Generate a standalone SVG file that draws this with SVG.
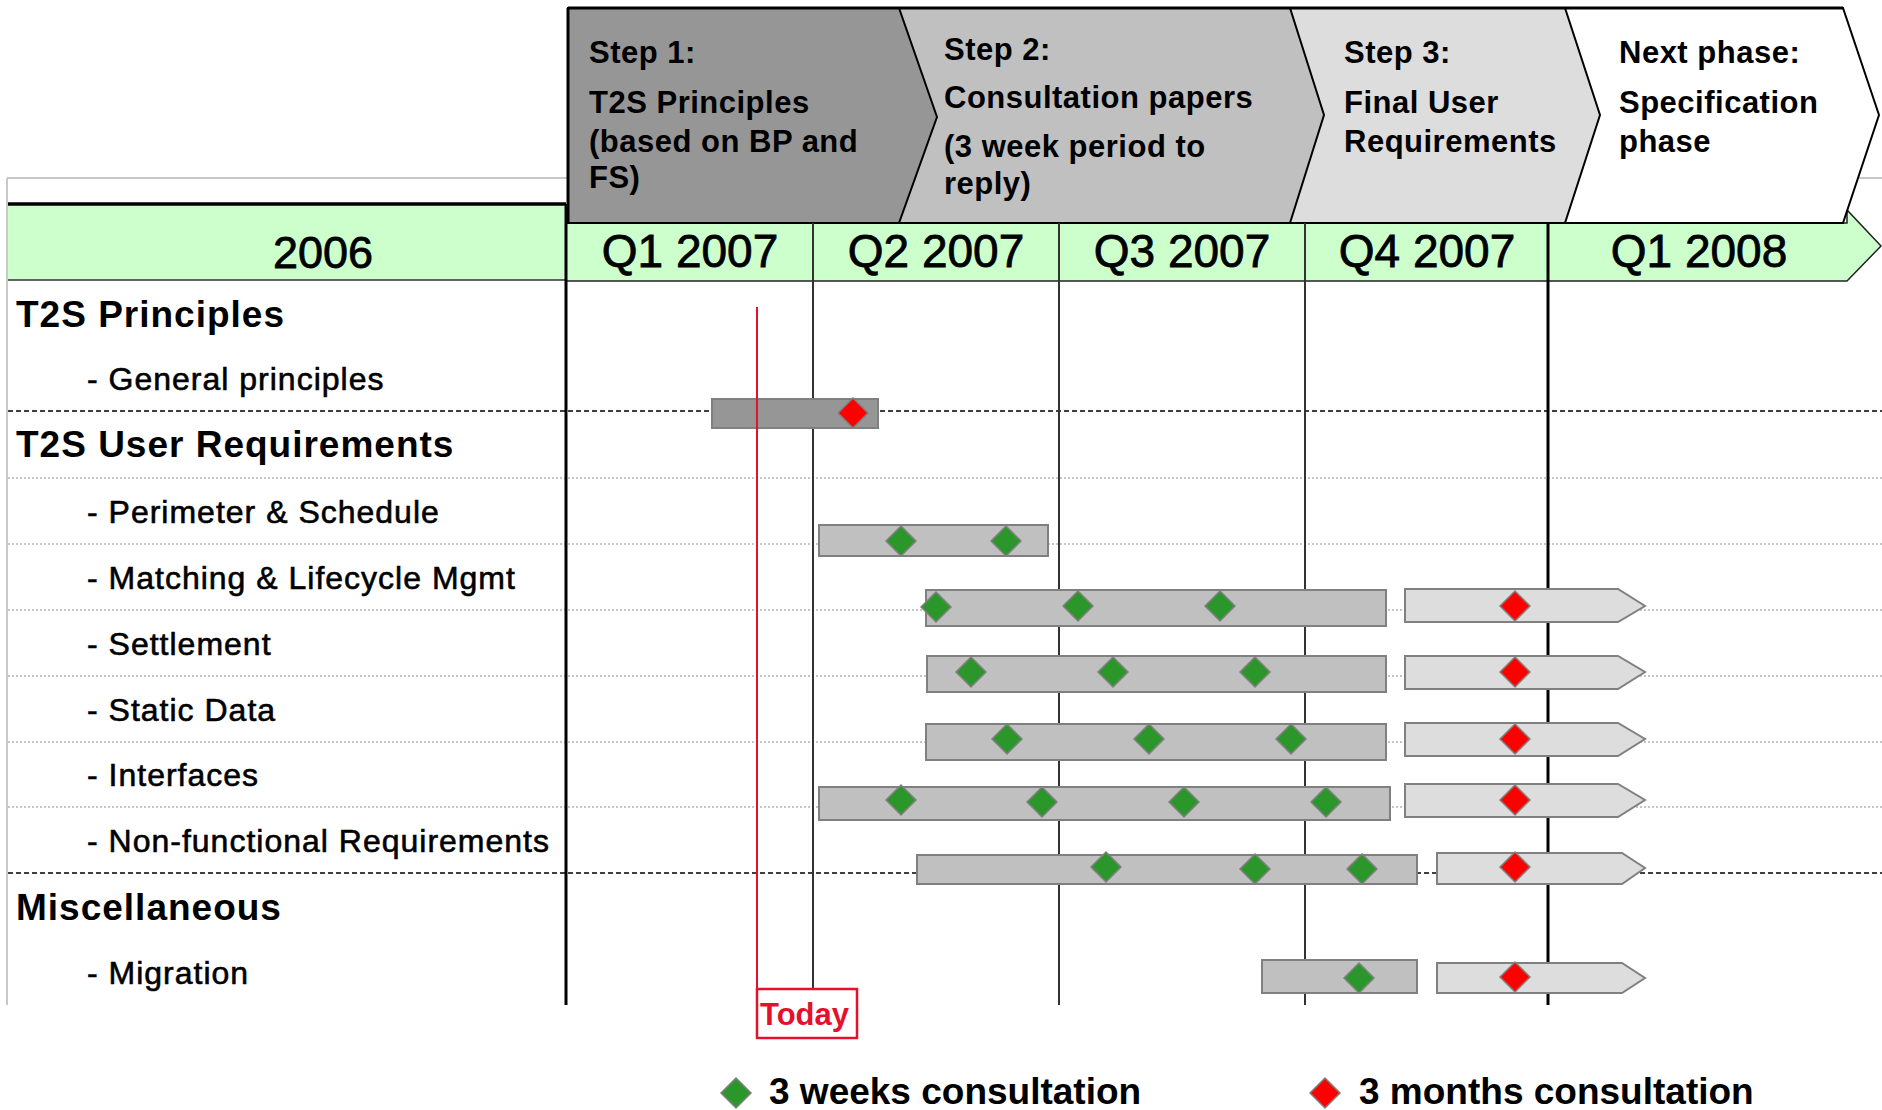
<svg xmlns="http://www.w3.org/2000/svg" xmlns:xlink="http://www.w3.org/1999/xlink" width="1882" height="1110" viewBox="0 0 1882 1110">
<style>
text{font-family:"Liberation Sans",Arial,sans-serif;fill:#000}
.hdr{font-size:31px;font-weight:bold;letter-spacing:0.5px}
.q{font-size:46px;text-anchor:middle;stroke:#000;stroke-width:0.8px}
.h1{font-size:37px;font-weight:bold;letter-spacing:1px}
.sub{font-size:32px;letter-spacing:1px;stroke:#000;stroke-width:0.6px}
.leg{font-size:37px;font-weight:bold}
.bar{fill:#c0c0c0;stroke:#808080;stroke-width:2}
.bar1{fill:#969696;stroke:#808080;stroke-width:2}
.arr{fill:#dddddd;stroke:#808080;stroke-width:2}
.g{fill:#2b972b;stroke:#808080;stroke-width:1.5}
.r{fill:#ff0000;stroke:#808080;stroke-width:1.5}
.dot{stroke:#b4b4b4;stroke-width:1.5;stroke-dasharray:2 2;fill:none}
.dash{stroke:#000;stroke-width:1.5;stroke-dasharray:5 3;fill:none}
.vq{stroke:#333;stroke-width:2}
.vb{stroke:#000;stroke-width:3}
.chev{stroke:#000;stroke-width:2;stroke-linejoin:miter}
</style>
<defs>
<path id="dia" d="M0,-15 L15,0 L0,15 L-15,0 Z"/>
</defs>
<rect x="0" y="0" width="1882" height="1110" fill="#fff"/>

<g id="frame">
<line x1="7" y1="178" x2="1882" y2="178" stroke="#c8c8c8" stroke-width="2"/>
<line x1="7" y1="178" x2="7" y2="1005" stroke="#c8c8c8" stroke-width="2"/>
</g>

<g id="timeline-band">
<rect x="8" y="204" width="558" height="76" fill="#ccffcc"/>
<polygon points="566,223 1847,223 1847,210 1881,246 1847,281 566,281" fill="#ccffcc" stroke="#222" stroke-width="1.5"/>
<line x1="8" y1="280" x2="566" y2="280" stroke="#333" stroke-width="1.5"/>
<line x1="8" y1="204" x2="566" y2="204" stroke="#000" stroke-width="3.5"/>
<text class="q" x="323" y="268" style="font-size:45px">2006</text>
<text class="q" x="690" y="267">Q1 2007</text>
<text class="q" x="936" y="267">Q2 2007</text>
<text class="q" x="1182" y="267">Q3 2007</text>
<text class="q" x="1427" y="267">Q4 2007</text>
<text class="q" x="1699" y="267">Q1 2008</text>
</g>

<g id="step-next">
<polygon class="chev" points="1290,8 1843,8 1879,115 1843,223 1290,223" fill="#ffffff"/>
<text class="hdr" x="1619" y="63">Next phase:</text>
<text class="hdr" x="1619" y="113">Specification</text>
<text class="hdr" x="1619" y="152">phase</text>
</g>
<g id="step-3">
<polygon class="chev" points="899,8 1565,8 1600,115 1565,223 899,223" fill="#dddddd"/>
<text class="hdr" x="1344" y="63">Step 3:</text>
<text class="hdr" x="1344" y="113">Final User</text>
<text class="hdr" x="1344" y="152">Requirements</text>
</g>
<g id="step-2">
<polygon class="chev" points="568,8 1290,8 1324,115 1290,223 568,223" fill="#c0c0c0"/>
<text class="hdr" x="944" y="60">Step 2:</text>
<text class="hdr" x="944" y="108">Consultation papers</text>
<text class="hdr" x="944" y="157">(3 week period to</text>
<text class="hdr" x="944" y="194">reply)</text>
</g>
<g id="step-1">
<polygon class="chev" points="568,8 899,8 937,117 899,223 568,223" fill="#969696"/>
<line x1="568" y1="8" x2="1843" y2="8" stroke="#000" stroke-width="3"/>
<line x1="568" y1="8" x2="568" y2="223" stroke="#000" stroke-width="3"/>
<text class="hdr" x="589" y="63">Step 1:</text>
<text class="hdr" x="589" y="113">T2S Principles</text>
<text class="hdr" x="589" y="152">(based on BP and</text>
<text class="hdr" x="589" y="188">FS)</text>
</g>

<g id="connectors">
<line class="dash" x1="8" y1="411" x2="1882" y2="411"/>
<line class="dot" x1="8" y1="478" x2="1882" y2="478"/>
<line class="dot" x1="8" y1="544" x2="1882" y2="544"/>
<line class="dot" x1="8" y1="610" x2="1882" y2="610"/>
<line class="dot" x1="8" y1="676" x2="1882" y2="676"/>
<line class="dot" x1="8" y1="742" x2="1882" y2="742"/>
<line class="dot" x1="8" y1="807" x2="1882" y2="807"/>
<line class="dash" x1="8" y1="873" x2="1882" y2="873"/>
<line class="vb" x1="566" y1="204" x2="566" y2="1005"/>
<line class="vq" x1="813" y1="223" x2="813" y2="1005"/>
<line class="vq" x1="1059" y1="223" x2="1059" y2="1005"/>
<line class="vq" x1="1305" y1="223" x2="1305" y2="1005"/>
<line class="vb" x1="1548" y1="223" x2="1548" y2="1005"/>
</g>

<g id="labels">
<text class="h1" x="16" y="327">T2S Principles</text>
<text class="sub" x="87" y="390">- General principles</text>
<text class="h1" x="16" y="457">T2S User Requirements</text>
<text class="sub" x="87" y="523">- Perimeter &amp; Schedule</text>
<text class="sub" x="87" y="589">- Matching &amp; Lifecycle Mgmt</text>
<text class="sub" x="87" y="655">- Settlement</text>
<text class="sub" x="87" y="721">- Static Data</text>
<text class="sub" x="87" y="786">- Interfaces</text>
<text class="sub" x="87" y="852">- Non-functional Requirements</text>
<text class="h1" x="16" y="920">Miscellaneous</text>
<text class="sub" x="87" y="984">- Migration</text>
</g>

<g id="row-general">
<rect class="bar1" x="712" y="399" width="166" height="29"/>
<use xlink:href="#dia" href="#dia" class="r" x="853" y="413"/>
</g>
<g id="row-perimeter">
<rect class="bar" x="819" y="525" width="229" height="31"/>
<use xlink:href="#dia" href="#dia" class="g" x="901" y="541"/>
<use xlink:href="#dia" href="#dia" class="g" x="1006" y="541"/>
</g>
<g id="row-matching">
<rect class="bar" x="926" y="590" width="460" height="36"/>
<path class="arr" d="M1405,589 H1618 L1645,606 L1618,622 H1405 Z"/>
<use xlink:href="#dia" href="#dia" class="g" x="936" y="607"/>
<use xlink:href="#dia" href="#dia" class="g" x="1078" y="606"/>
<use xlink:href="#dia" href="#dia" class="g" x="1220" y="606"/>
<use xlink:href="#dia" href="#dia" class="r" x="1515" y="606"/>
</g>
<g id="row-settlement">
<rect class="bar" x="927" y="656" width="459" height="36"/>
<path class="arr" d="M1405,656 H1618 L1645,672 L1618,689 H1405 Z"/>
<use xlink:href="#dia" href="#dia" class="g" x="971" y="672"/>
<use xlink:href="#dia" href="#dia" class="g" x="1113" y="672"/>
<use xlink:href="#dia" href="#dia" class="g" x="1255" y="672"/>
<use xlink:href="#dia" href="#dia" class="r" x="1515" y="672"/>
</g>
<g id="row-static">
<rect class="bar" x="926" y="724" width="460" height="36"/>
<path class="arr" d="M1405,723 H1618 L1645,739 L1618,756 H1405 Z"/>
<use xlink:href="#dia" href="#dia" class="g" x="1007" y="739"/>
<use xlink:href="#dia" href="#dia" class="g" x="1149" y="739"/>
<use xlink:href="#dia" href="#dia" class="g" x="1291" y="739"/>
<use xlink:href="#dia" href="#dia" class="r" x="1515" y="739"/>
</g>
<g id="row-interfaces">
<rect class="bar" x="819" y="787" width="571" height="33"/>
<path class="arr" d="M1405,784 H1618 L1645,800 L1618,817 H1405 Z"/>
<use xlink:href="#dia" href="#dia" class="g" x="901" y="800"/>
<use xlink:href="#dia" href="#dia" class="g" x="1042" y="802"/>
<use xlink:href="#dia" href="#dia" class="g" x="1184" y="802"/>
<use xlink:href="#dia" href="#dia" class="g" x="1326" y="802"/>
<use xlink:href="#dia" href="#dia" class="r" x="1515" y="800"/>
</g>
<g id="row-nonfunctional">
<rect class="bar" x="917" y="855" width="500" height="29"/>
<path class="arr" d="M1437,853 H1622 L1645,868 L1622,884 H1437 Z"/>
<use xlink:href="#dia" href="#dia" class="g" x="1106" y="867"/>
<use xlink:href="#dia" href="#dia" class="g" x="1255" y="869"/>
<use xlink:href="#dia" href="#dia" class="g" x="1362" y="869"/>
<use xlink:href="#dia" href="#dia" class="r" x="1515" y="867"/>
</g>
<g id="row-migration">
<rect class="bar" x="1262" y="960" width="155" height="33"/>
<path class="arr" d="M1437,963 H1622 L1645,978 L1622,993 H1437 Z"/>
<use xlink:href="#dia" href="#dia" class="g" x="1359" y="978"/>
<use xlink:href="#dia" href="#dia" class="r" x="1515" y="977"/>
</g>

<g id="today">
<line x1="757" y1="307" x2="757" y2="989" stroke="#e4112c" stroke-width="2"/>
<rect x="757" y="989" width="100" height="49" fill="#fff" stroke="#e4112c" stroke-width="2.5"/>
<text x="760" y="1025" style="font-size:31px;font-weight:bold;fill:#e4112c">Today</text>
</g>

<g id="legend">
<use xlink:href="#dia" href="#dia" class="g" x="736" y="1093"/>
<text class="leg" x="769" y="1104">3 weeks consultation</text>
<use xlink:href="#dia" href="#dia" class="r" x="1325" y="1093"/>
<text class="leg" x="1359" y="1104">3 months consultation</text>
</g>
</svg>
